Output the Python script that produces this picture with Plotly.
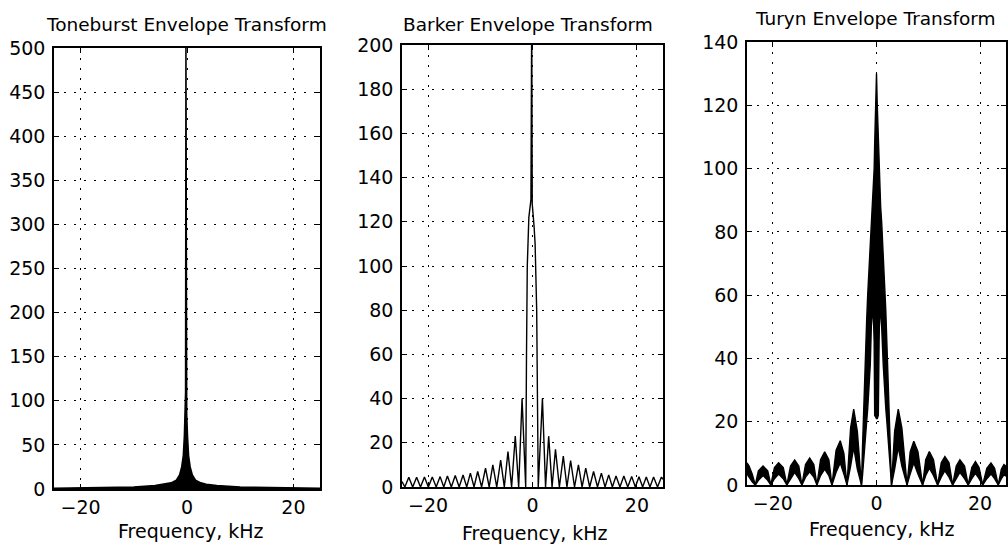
import plotly.graph_objects as go

# ---------------- Toneburst envelope transform (upper envelope) ----------------
tone_x = [-25, -20, -15, -10, -6, -4, -3, -2, -1.4, -1.0, -0.7, -0.5, -0.35, -0.27,
          -0.2, -0.13, -0.05, 0.1, 0.3, 0.6, 1.0, 1.6, 2.6, 3.6, 5.6, 10, 15, 20, 25]
tone_y = [0.8, 1.1, 1.5, 2.2, 4.0, 5.5, 7.0, 10, 16, 25, 38, 60, 85, 110,
          520, 110, 85, 60, 38, 25, 16, 10, 7.0, 5.5, 4.0, 2.2, 1.5, 1.1, 0.8]

# ---------------- Barker envelope transform ----------------
barker_peak_x = [-23.7, -22.2, -20.7, -19.2, -17.7, -16.3, -14.8, -13.3, -11.9, -10.5,
                 -9.0, -7.6, -6.1, -4.7, -3.3, -2.0,
                 1.9, 3.1, 4.4, 5.9, 7.3, 8.8, 10.2, 11.7, 13.2, 14.6, 16.0, 17.5,
                 19.0, 20.4, 21.8, 23.2, 24.7]
barker_peak_y = [4.4, 4.4, 4.5, 4.5, 4.7, 5.0, 5.2, 5.4, 6.3, 7.0,
                 8.5, 10.0, 12.2, 16.0, 23.0, 40.0,
                 40.0, 23.0, 17.0, 14.0, 12.0, 10.0, 8.5, 7.0, 6.3, 5.5, 5.0, 5.0,
                 4.8, 4.6, 4.5, 4.5, 4.5]
barker_null_x = [-24.45, -22.95, -21.45, -19.95, -18.45, -17.0, -15.55, -14.05, -12.6,
                 -11.2, -9.75, -8.3, -6.85, -5.4, -4.0, -2.65, -1.3,
                 1.1, 2.5, 3.75, 5.15, 6.6, 8.05, 9.5, 10.95, 12.45, 13.9, 15.3,
                 16.75, 18.25, 19.7, 21.1, 22.5, 23.95]
barker_main_x = [-25.0, -1.15, -1.0, -0.7, -0.3, -0.15, -0.05, 0.3, 0.5, 0.8, 0.95, 25.0]
barker_main_y = [2.5, 60, 100, 122, 130, 215, 128, 118, 110, 80, 30, 3.5]

# ---------------- Turyn envelope transform (upper / lower envelopes) ----------------
turyn_x = [-25.0, -24.6, -24.0, -23.4, -22.8, -21.9, -21.0, -20.4, -19.7, -18.9, -18.0,
           -17.3, -16.6, -15.8, -15.0, -14.4, -13.7, -12.9, -12.1, -11.5, -10.8, -10.0,
           -9.2, -8.6, -7.8, -7.0, -6.3, -5.7, -5.0, -4.4, -3.7,
           -2.9, -2.7, -2.5, -2.2, -1.9, -1.7, -1.4, -1.2, -1.0, -0.8, -0.6, -0.45, -0.35,
           -0.15, 0.0, 0.15, 0.35, 0.5, 0.6, 0.8, 1.0, 1.3, 1.6, 1.8, 2.0, 2.3, 2.6, 2.9,
           3.5, 4.2, 4.9, 5.9, 6.5, 7.2, 8.0, 8.9, 9.5, 10.2, 11.0, 11.8, 12.5, 13.2,
           14.0, 14.7, 15.4, 16.1, 17.0, 17.7, 18.4, 19.1, 19.8, 20.5, 21.3, 22.1, 22.8,
           23.5, 24.1, 24.6, 25.0]
turyn_upper = [7.0, 6.0, 3.5, 0.0, 4.5, 6.0, 4.5, 0.0, 5.5, 7.0, 5.5,
               0.0, 6.0, 7.9, 6.0, 0.0, 6.5, 8.5, 6.5, 0.0, 8.0, 10.5,
               8.0, 0.0, 11.0, 14.0, 10.0, 0.0, 18.0, 24.0, 17.0,
               0.0, 12, 24, 38, 52, 60, 70, 77, 83, 88, 95, 100, 108,
               120, 130, 120, 108, 100, 95, 88, 83, 74, 62, 55, 45, 30, 15, 0.0,
               17.0, 24.0, 18.0, 0.0, 10.5, 13.8, 10.5, 0.0, 8.0, 10.6, 8.0, 0.0, 7.0, 9.0,
               7.0, 0.0, 6.0, 8.0, 6.0, 0.0, 5.5, 7.4, 5.5, 0.0, 5.3, 7.0, 5.3,
               0.0, 5.0, 6.5, 6.0]
turyn_lower = [3.5, 2.5, 1.0, 0.0, 1.5, 3.0, 1.5, 0.0, 2.0, 3.5, 2.0,
               0.0, 2.0, 4.0, 2.0, 0.0, 2.5, 4.2, 2.5, 0.0, 3.0, 5.0,
               3.0, 0.0, 4.0, 7.0, 3.5, 0.0, 6.0, 12.0, 5.0,
               0.0, 3, 8, 14, 20, 24, 33, 38, 50, 54, 54, 45, 22,
               21, 21, 21, 22, 45, 54, 54, 50, 38, 28, 24, 20, 14, 8, 0.0,
               5.0, 12.0, 6.0, 0.0, 3.5, 7.0, 3.5, 0.0, 3.0, 5.3, 3.0, 0.0, 2.5, 4.5,
               2.5, 0.0, 2.0, 4.0, 2.0, 0.0, 2.0, 3.7, 2.0, 0.0, 2.0, 3.5, 2.0,
               0.0, 2.0, 3.2, 2.8]

# ---------------- axes / labels ----------------
titles = ["Toneburst Envelope Transform", "Barker Envelope Transform", "Turyn Envelope Transform"]
x_label = "Frequency, kHz"
x_ticks = [-20, 0, 20]
y_ranges = [[0, 500], [0, 200], [0, 140]]
y_dticks = [50, 20, 20]

FONT = "DejaVu Sans"

# merge Barker table
barker_pts = sorted(
    list(zip(barker_peak_x, barker_peak_y))
    + [(x, 0.0) for x in barker_null_x]
    + list(zip(barker_main_x, barker_main_y))
)
barker_x = [p[0] for p in barker_pts]
barker_y = [p[1] for p in barker_pts]

fig = go.Figure()
fig.add_trace(go.Scatter(x=tone_x, y=tone_y, mode="lines", fill="tozeroy",
                         fillcolor="black", line=dict(color="black", width=1.5),
                         xaxis="x", yaxis="y", showlegend=False, hoverinfo="skip"))
fig.add_trace(go.Scatter(x=barker_x, y=barker_y, mode="lines",
                         line=dict(color="black", width=1.4),
                         xaxis="x2", yaxis="y2", showlegend=False, hoverinfo="skip"))
fig.add_trace(go.Scatter(x=turyn_x, y=turyn_upper, mode="lines",
                         line=dict(color="black", width=1.4),
                         xaxis="x3", yaxis="y3", showlegend=False, hoverinfo="skip"))
fig.add_trace(go.Scatter(x=turyn_x, y=turyn_lower, mode="lines", fill="tonexty",
                         fillcolor="black", line=dict(color="black", width=1.4),
                         xaxis="x3", yaxis="y3", showlegend=False, hoverinfo="skip"))

common = dict(showline=True, linecolor="black", linewidth=1.5, mirror="allticks",
              ticks="inside", ticklen=5, tickwidth=1, tickcolor="black",
              showgrid=True, gridcolor="black", gridwidth=1, griddash="2px,8px",
              zeroline=False, automargin=False,
              tickfont=dict(family=FONT, size=19, color="black"))

W, H = 1008, 549
x_dom_px = [(54, 320), (402, 663), (747, 1006)]
y_dom_px = [(48, 489), (45, 487), (42, 485)]

layout = dict(width=W, height=H, margin=dict(l=0, r=0, t=0, b=0),
              paper_bgcolor="white", plot_bgcolor="white", showlegend=False)
for i in range(3):
    sx = "" if i == 0 else str(i + 1)
    xd = [x_dom_px[i][0] / W, x_dom_px[i][1] / W]
    yd = [1 - y_dom_px[i][1] / H, 1 - y_dom_px[i][0] / H]
    layout["xaxis" + sx] = dict(common, domain=xd, anchor="y" + sx, range=[-25, 25],
                                tickvals=x_ticks, ticklabelstandoff=0)
    layout["yaxis" + sx] = dict(common, domain=yd, anchor="x" + sx, range=y_ranges[i],
                                tick0=0, dtick=y_dticks[i], ticklabelstandoff=3)
fig.update_layout(**layout)

title_pos = [(186, 25), (528, 24), (875, 19)]
label_pos = [(191, 531), (535, 533), (882, 529)]
for i in range(3):
    fig.add_annotation(text=titles[i], xref="paper", yref="paper",
                       x=title_pos[i][0] / W, y=1 - title_pos[i][1] / H,
                       xanchor="center", yanchor="middle", showarrow=False,
                       font=dict(family=FONT, size=18.5, color="black"))
    fig.add_annotation(text=x_label, xref="paper", yref="paper",
                       x=label_pos[i][0] / W, y=1 - label_pos[i][1] / H,
                       xanchor="center", yanchor="middle", showarrow=False,
                       font=dict(family=FONT, size=19, color="black"))

fig.write_html("out.html")
